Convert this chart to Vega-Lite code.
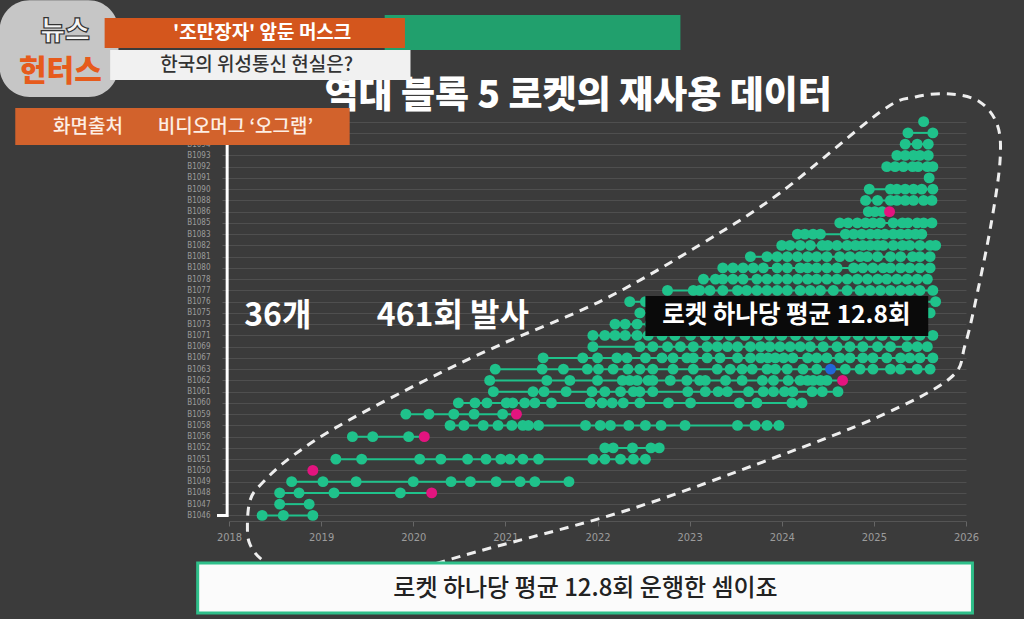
{
"$schema": "https://vega.github.io/schema/vega-lite/v6.json",
"width": 737, "height": 405,
"autosize": "none",
"padding": {"left": 229, "top": 116, "right": 58, "bottom": 98},
"background": "#3b3b3b",
"config": {"view": {"stroke": null}},
"datasets": {
"launches": [
{"booster":"B1046","year":2018.36,"status":"ok"},{"booster":"B1046","year":2018.59,"status":"ok"},{"booster":"B1046","year":2018.91,"status":"ok"},
{"booster":"B1047","year":2018.55,"status":"ok"},{"booster":"B1047","year":2018.87,"status":"ok"},
{"booster":"B1048","year":2018.55,"status":"ok"},{"booster":"B1048","year":2018.76,"status":"ok"},{"booster":"B1048","year":2019.14,"status":"ok"},{"booster":"B1048","year":2019.86,"status":"ok"},{"booster":"B1048","year":2020.20,"status":"lost"},
{"booster":"B1049","year":2018.68,"status":"ok"},{"booster":"B1049","year":2019.02,"status":"ok"},{"booster":"B1049","year":2019.38,"status":"ok"},{"booster":"B1049","year":2020.00,"status":"ok"},{"booster":"B1049","year":2020.41,"status":"ok"},{"booster":"B1049","year":2020.62,"status":"ok"},{"booster":"B1049","year":2020.90,"status":"ok"},{"booster":"B1049","year":2021.16,"status":"ok"},{"booster":"B1049","year":2021.32,"status":"ok"},{"booster":"B1049","year":2021.69,"status":"ok"},
{"booster":"B1050","year":2018.91,"status":"lost"},
{"booster":"B1051","year":2019.16,"status":"ok"},{"booster":"B1051","year":2019.44,"status":"ok"},{"booster":"B1051","year":2020.07,"status":"ok"},{"booster":"B1051","year":2020.30,"status":"ok"},{"booster":"B1051","year":2020.59,"status":"ok"},{"booster":"B1051","year":2020.79,"status":"ok"},{"booster":"B1051","year":2020.95,"status":"ok"},{"booster":"B1051","year":2021.05,"status":"ok"},{"booster":"B1051","year":2021.19,"status":"ok"},{"booster":"B1051","year":2021.36,"status":"ok"},{"booster":"B1051","year":2021.95,"status":"ok"},{"booster":"B1051","year":2022.08,"status":"ok"},{"booster":"B1051","year":2022.25,"status":"ok"},{"booster":"B1051","year":2022.39,"status":"ok"},{"booster":"B1051","year":2022.52,"status":"ok"},
{"booster":"B1052","year":2022.08,"status":"ok"},{"booster":"B1052","year":2022.17,"status":"ok"},{"booster":"B1052","year":2022.38,"status":"ok"},{"booster":"B1052","year":2022.58,"status":"ok"},{"booster":"B1052","year":2022.67,"status":"ok"},
{"booster":"B1056","year":2019.34,"status":"ok"},{"booster":"B1056","year":2019.56,"status":"ok"},{"booster":"B1056","year":2019.95,"status":"ok"},{"booster":"B1056","year":2020.12,"status":"lost"},
{"booster":"B1058","year":2020.40,"status":"ok"},{"booster":"B1058","year":2020.55,"status":"ok"},{"booster":"B1058","year":2020.76,"status":"ok"},{"booster":"B1058","year":2020.92,"status":"ok"},{"booster":"B1058","year":2021.07,"status":"ok"},{"booster":"B1058","year":2021.19,"status":"ok"},{"booster":"B1058","year":2021.25,"status":"ok"},{"booster":"B1058","year":2021.36,"status":"ok"},{"booster":"B1058","year":2021.87,"status":"ok"},{"booster":"B1058","year":2022.03,"status":"ok"},{"booster":"B1058","year":2022.14,"status":"ok"},{"booster":"B1058","year":2022.34,"status":"ok"},{"booster":"B1058","year":2022.52,"status":"ok"},{"booster":"B1058","year":2022.69,"status":"ok"},{"booster":"B1058","year":2022.95,"status":"ok"},{"booster":"B1058","year":2023.52,"status":"ok"},{"booster":"B1058","year":2023.71,"status":"ok"},{"booster":"B1058","year":2023.84,"status":"ok"},{"booster":"B1058","year":2023.97,"status":"ok"},
{"booster":"B1059","year":2019.92,"status":"ok"},{"booster":"B1059","year":2020.17,"status":"ok"},{"booster":"B1059","year":2020.44,"status":"ok"},{"booster":"B1059","year":2020.66,"status":"ok"},{"booster":"B1059","year":2020.97,"status":"ok"},{"booster":"B1059","year":2021.12,"status":"lost"},
{"booster":"B1060","year":2020.49,"status":"ok"},{"booster":"B1060","year":2020.67,"status":"ok"},{"booster":"B1060","year":2020.80,"status":"ok"},{"booster":"B1060","year":2021.01,"status":"ok"},{"booster":"B1060","year":2021.08,"status":"ok"},{"booster":"B1060","year":2021.21,"status":"ok"},{"booster":"B1060","year":2021.32,"status":"ok"},{"booster":"B1060","year":2021.50,"status":"ok"},{"booster":"B1060","year":2021.92,"status":"ok"},{"booster":"B1060","year":2022.05,"status":"ok"},{"booster":"B1060","year":2022.16,"status":"ok"},{"booster":"B1060","year":2022.28,"status":"ok"},{"booster":"B1060","year":2022.46,"status":"ok"},{"booster":"B1060","year":2022.77,"status":"ok"},{"booster":"B1060","year":2023.01,"status":"ok"},{"booster":"B1060","year":2023.54,"status":"ok"},{"booster":"B1060","year":2023.73,"status":"ok"},{"booster":"B1060","year":2024.11,"status":"ok"},{"booster":"B1060","year":2024.22,"status":"ok"},
{"booster":"B1061","year":2020.87,"status":"ok"},{"booster":"B1061","year":2021.30,"status":"ok"},{"booster":"B1061","year":2021.42,"status":"ok"},{"booster":"B1061","year":2021.66,"status":"ok"},{"booster":"B1061","year":2021.94,"status":"ok"},{"booster":"B1061","year":2022.08,"status":"ok"},{"booster":"B1061","year":2022.25,"status":"ok"},{"booster":"B1061","year":2022.39,"status":"ok"},{"booster":"B1061","year":2022.46,"status":"ok"},{"booster":"B1061","year":2022.60,"status":"ok"},{"booster":"B1061","year":2022.98,"status":"ok"},{"booster":"B1061","year":2023.17,"status":"ok"},{"booster":"B1061","year":2023.31,"status":"ok"},{"booster":"B1061","year":2023.41,"status":"ok"},{"booster":"B1061","year":2023.64,"status":"ok"},{"booster":"B1061","year":2023.80,"status":"ok"},{"booster":"B1061","year":2023.91,"status":"ok"},{"booster":"B1061","year":2024.03,"status":"ok"},{"booster":"B1061","year":2024.12,"status":"ok"},{"booster":"B1061","year":2024.33,"status":"ok"},{"booster":"B1061","year":2024.44,"status":"ok"},{"booster":"B1061","year":2024.61,"status":"ok"},
{"booster":"B1062","year":2020.83,"status":"ok"},{"booster":"B1062","year":2021.45,"status":"ok"},{"booster":"B1062","year":2021.70,"status":"ok"},{"booster":"B1062","year":2022.00,"status":"ok"},{"booster":"B1062","year":2022.27,"status":"ok"},{"booster":"B1062","year":2022.35,"status":"ok"},{"booster":"B1062","year":2022.43,"status":"ok"},{"booster":"B1062","year":2022.55,"status":"ok"},{"booster":"B1062","year":2022.60,"status":"ok"},{"booster":"B1062","year":2022.79,"status":"ok"},{"booster":"B1062","year":2022.97,"status":"ok"},{"booster":"B1062","year":2023.11,"status":"ok"},{"booster":"B1062","year":2023.17,"status":"ok"},{"booster":"B1062","year":2023.39,"status":"ok"},{"booster":"B1062","year":2023.57,"status":"ok"},{"booster":"B1062","year":2023.79,"status":"ok"},{"booster":"B1062","year":2023.91,"status":"ok"},{"booster":"B1062","year":2024.07,"status":"ok"},{"booster":"B1062","year":2024.20,"status":"ok"},{"booster":"B1062","year":2024.28,"status":"ok"},{"booster":"B1062","year":2024.34,"status":"ok"},{"booster":"B1062","year":2024.42,"status":"ok"},{"booster":"B1062","year":2024.49,"status":"ok"},{"booster":"B1062","year":2024.66,"status":"lost"},
{"booster":"B1063","year":2020.89,"status":"ok"},{"booster":"B1063","year":2021.40,"status":"ok"},{"booster":"B1063","year":2021.63,"status":"ok"},{"booster":"B1063","year":2021.89,"status":"ok"},{"booster":"B1063","year":2022.01,"status":"ok"},{"booster":"B1063","year":2022.17,"status":"ok"},{"booster":"B1063","year":2022.33,"status":"ok"},{"booster":"B1063","year":2022.46,"status":"ok"},{"booster":"B1063","year":2022.60,"status":"ok"},{"booster":"B1063","year":2022.82,"status":"ok"},{"booster":"B1063","year":2023.04,"status":"ok"},{"booster":"B1063","year":2023.30,"status":"ok"},{"booster":"B1063","year":2023.44,"status":"ok"},{"booster":"B1063","year":2023.57,"status":"ok"},{"booster":"B1063","year":2023.68,"status":"ok"},{"booster":"B1063","year":2023.84,"status":"ok"},{"booster":"B1063","year":2023.93,"status":"ok"},{"booster":"B1063","year":2024.06,"status":"ok"},{"booster":"B1063","year":2024.23,"status":"ok"},{"booster":"B1063","year":2024.38,"status":"ok"},{"booster":"B1063","year":2024.53,"status":"fail"},{"booster":"B1063","year":2024.69,"status":"ok"},{"booster":"B1063","year":2024.85,"status":"ok"},{"booster":"B1063","year":2024.99,"status":"ok"},{"booster":"B1063","year":2025.18,"status":"ok"},{"booster":"B1063","year":2025.29,"status":"ok"},{"booster":"B1063","year":2025.47,"status":"ok"},{"booster":"B1063","year":2025.61,"status":"ok"},
{"booster":"B1067","year":2021.41,"status":"ok"},{"booster":"B1067","year":2021.84,"status":"ok"},{"booster":"B1067","year":2022.00,"status":"ok"},{"booster":"B1067","year":2022.21,"status":"ok"},{"booster":"B1067","year":2022.32,"status":"ok"},{"booster":"B1067","year":2022.52,"status":"ok"},{"booster":"B1067","year":2022.70,"status":"ok"},{"booster":"B1067","year":2022.82,"status":"ok"},{"booster":"B1067","year":2022.97,"status":"ok"},{"booster":"B1067","year":2023.04,"status":"ok"},{"booster":"B1067","year":2023.19,"status":"ok"},{"booster":"B1067","year":2023.33,"status":"ok"},{"booster":"B1067","year":2023.52,"status":"ok"},{"booster":"B1067","year":2023.66,"status":"ok"},{"booster":"B1067","year":2023.77,"status":"ok"},{"booster":"B1067","year":2023.85,"status":"ok"},{"booster":"B1067","year":2023.93,"status":"ok"},{"booster":"B1067","year":2024.02,"status":"ok"},{"booster":"B1067","year":2024.12,"status":"ok"},{"booster":"B1067","year":2024.28,"status":"ok"},{"booster":"B1067","year":2024.38,"status":"ok"},{"booster":"B1067","year":2024.49,"status":"ok"},{"booster":"B1067","year":2024.63,"status":"ok"},{"booster":"B1067","year":2024.74,"status":"ok"},{"booster":"B1067","year":2024.88,"status":"ok"},{"booster":"B1067","year":2024.99,"status":"ok"},{"booster":"B1067","year":2025.14,"status":"ok"},{"booster":"B1067","year":2025.29,"status":"ok"},{"booster":"B1067","year":2025.39,"status":"ok"},{"booster":"B1067","year":2025.50,"status":"ok"},{"booster":"B1067","year":2025.64,"status":"ok"},
{"booster":"B1069","year":2021.95,"status":"ok"},{"booster":"B1069","year":2022.46,"status":"ok"},{"booster":"B1069","year":2022.60,"status":"ok"},{"booster":"B1069","year":2022.76,"status":"ok"},{"booster":"B1069","year":2022.90,"status":"ok"},{"booster":"B1069","year":2023.04,"status":"ok"},{"booster":"B1069","year":2023.19,"status":"ok"},{"booster":"B1069","year":2023.30,"status":"ok"},{"booster":"B1069","year":2023.41,"status":"ok"},{"booster":"B1069","year":2023.52,"status":"ok"},{"booster":"B1069","year":2023.66,"status":"ok"},{"booster":"B1069","year":2023.77,"status":"ok"},{"booster":"B1069","year":2023.87,"status":"ok"},{"booster":"B1069","year":2023.98,"status":"ok"},{"booster":"B1069","year":2024.09,"status":"ok"},{"booster":"B1069","year":2024.20,"status":"ok"},{"booster":"B1069","year":2024.31,"status":"ok"},{"booster":"B1069","year":2024.45,"status":"ok"},{"booster":"B1069","year":2024.60,"status":"ok"},{"booster":"B1069","year":2024.74,"status":"ok"},{"booster":"B1069","year":2024.88,"status":"ok"},{"booster":"B1069","year":2025.04,"status":"ok"},{"booster":"B1069","year":2025.18,"status":"ok"},{"booster":"B1069","year":2025.36,"status":"ok"},{"booster":"B1069","year":2025.47,"status":"ok"},{"booster":"B1069","year":2025.58,"status":"ok"},
{"booster":"B1071","year":2021.95,"status":"ok"},{"booster":"B1071","year":2022.08,"status":"ok"},{"booster":"B1071","year":2022.19,"status":"ok"},{"booster":"B1071","year":2022.30,"status":"ok"},{"booster":"B1071","year":2022.43,"status":"ok"},{"booster":"B1071","year":2022.55,"status":"ok"},{"booster":"B1071","year":2022.70,"status":"ok"},{"booster":"B1071","year":2022.84,"status":"ok"},{"booster":"B1071","year":2023.01,"status":"ok"},{"booster":"B1071","year":2023.17,"status":"ok"},{"booster":"B1071","year":2023.31,"status":"ok"},{"booster":"B1071","year":2023.44,"status":"ok"},{"booster":"B1071","year":2023.60,"status":"ok"},{"booster":"B1071","year":2023.74,"status":"ok"},{"booster":"B1071","year":2023.87,"status":"ok"},{"booster":"B1071","year":2024.00,"status":"ok"},{"booster":"B1071","year":2024.15,"status":"ok"},{"booster":"B1071","year":2024.29,"status":"ok"},{"booster":"B1071","year":2024.42,"status":"ok"},{"booster":"B1071","year":2024.55,"status":"ok"},{"booster":"B1071","year":2024.69,"status":"ok"},{"booster":"B1071","year":2024.83,"status":"ok"},{"booster":"B1071","year":2024.96,"status":"ok"},{"booster":"B1071","year":2025.09,"status":"ok"},{"booster":"B1071","year":2025.23,"status":"ok"},{"booster":"B1071","year":2025.36,"status":"ok"},{"booster":"B1071","year":2025.50,"status":"ok"},{"booster":"B1071","year":2025.64,"status":"ok"},
{"booster":"B1073","year":2022.19,"status":"ok"},{"booster":"B1073","year":2022.30,"status":"ok"},{"booster":"B1073","year":2022.43,"status":"ok"},{"booster":"B1073","year":2022.57,"status":"ok"},{"booster":"B1073","year":2022.73,"status":"ok"},{"booster":"B1073","year":2022.90,"status":"ok"},{"booster":"B1073","year":2023.06,"status":"ok"},{"booster":"B1073","year":2023.22,"status":"ok"},{"booster":"B1073","year":2023.39,"status":"ok"},{"booster":"B1073","year":2023.55,"status":"ok"},{"booster":"B1073","year":2023.71,"status":"ok"},{"booster":"B1073","year":2023.87,"status":"ok"},{"booster":"B1073","year":2024.04,"status":"ok"},{"booster":"B1073","year":2024.20,"status":"ok"},{"booster":"B1073","year":2024.36,"status":"ok"},{"booster":"B1073","year":2024.53,"status":"ok"},{"booster":"B1073","year":2024.72,"status":"ok"},{"booster":"B1073","year":2024.91,"status":"ok"},{"booster":"B1073","year":2025.12,"status":"ok"},{"booster":"B1073","year":2025.34,"status":"ok"},
{"booster":"B1075","year":2022.46,"status":"ok"},{"booster":"B1075","year":2022.63,"status":"ok"},{"booster":"B1075","year":2022.81,"status":"ok"},{"booster":"B1075","year":2023.01,"status":"ok"},{"booster":"B1075","year":2023.20,"status":"ok"},{"booster":"B1075","year":2023.39,"status":"ok"},{"booster":"B1075","year":2023.60,"status":"ok"},{"booster":"B1075","year":2023.82,"status":"ok"},{"booster":"B1075","year":2024.04,"status":"ok"},{"booster":"B1075","year":2024.25,"status":"ok"},{"booster":"B1075","year":2024.47,"status":"ok"},{"booster":"B1075","year":2024.69,"status":"ok"},{"booster":"B1075","year":2024.91,"status":"ok"},{"booster":"B1075","year":2025.12,"status":"ok"},{"booster":"B1075","year":2025.34,"status":"ok"},{"booster":"B1075","year":2025.48,"status":"ok"},{"booster":"B1075","year":2025.61,"status":"ok"},
{"booster":"B1076","year":2022.35,"status":"ok"},{"booster":"B1076","year":2022.52,"status":"ok"},{"booster":"B1076","year":2022.68,"status":"ok"},{"booster":"B1076","year":2022.84,"status":"ok"},{"booster":"B1076","year":2023.01,"status":"ok"},{"booster":"B1076","year":2023.17,"status":"ok"},{"booster":"B1076","year":2023.33,"status":"ok"},{"booster":"B1076","year":2023.53,"status":"ok"},{"booster":"B1076","year":2023.71,"status":"ok"},{"booster":"B1076","year":2023.90,"status":"ok"},{"booster":"B1076","year":2024.09,"status":"ok"},{"booster":"B1076","year":2024.29,"status":"ok"},{"booster":"B1076","year":2024.48,"status":"ok"},{"booster":"B1076","year":2024.69,"status":"ok"},{"booster":"B1076","year":2024.87,"status":"ok"},{"booster":"B1076","year":2025.07,"status":"ok"},{"booster":"B1076","year":2025.26,"status":"ok"},{"booster":"B1076","year":2025.45,"status":"ok"},{"booster":"B1076","year":2025.67,"status":"ok"},
{"booster":"B1077","year":2022.76,"status":"ok"},{"booster":"B1077","year":2023.04,"status":"ok"},{"booster":"B1077","year":2023.11,"status":"ok"},{"booster":"B1077","year":2023.22,"status":"ok"},{"booster":"B1077","year":2023.36,"status":"ok"},{"booster":"B1077","year":2023.52,"status":"ok"},{"booster":"B1077","year":2023.62,"status":"ok"},{"booster":"B1077","year":2023.73,"status":"ok"},{"booster":"B1077","year":2023.84,"status":"ok"},{"booster":"B1077","year":2023.95,"status":"ok"},{"booster":"B1077","year":2024.06,"status":"ok"},{"booster":"B1077","year":2024.20,"status":"ok"},{"booster":"B1077","year":2024.31,"status":"ok"},{"booster":"B1077","year":2024.42,"status":"ok"},{"booster":"B1077","year":2024.56,"status":"ok"},{"booster":"B1077","year":2024.71,"status":"ok"},{"booster":"B1077","year":2024.85,"status":"ok"},{"booster":"B1077","year":2024.96,"status":"ok"},{"booster":"B1077","year":2025.07,"status":"ok"},{"booster":"B1077","year":2025.18,"status":"ok"},{"booster":"B1077","year":2025.29,"status":"ok"},{"booster":"B1077","year":2025.39,"status":"ok"},{"booster":"B1077","year":2025.50,"status":"ok"},{"booster":"B1077","year":2025.64,"status":"ok"},
{"booster":"B1078","year":2023.15,"status":"ok"},{"booster":"B1078","year":2023.28,"status":"ok"},{"booster":"B1078","year":2023.36,"status":"ok"},{"booster":"B1078","year":2023.47,"status":"ok"},{"booster":"B1078","year":2023.58,"status":"ok"},{"booster":"B1078","year":2023.73,"status":"ok"},{"booster":"B1078","year":2023.84,"status":"ok"},{"booster":"B1078","year":2023.95,"status":"ok"},{"booster":"B1078","year":2024.06,"status":"ok"},{"booster":"B1078","year":2024.17,"status":"ok"},{"booster":"B1078","year":2024.28,"status":"ok"},{"booster":"B1078","year":2024.38,"status":"ok"},{"booster":"B1078","year":2024.49,"status":"ok"},{"booster":"B1078","year":2024.60,"status":"ok"},{"booster":"B1078","year":2024.71,"status":"ok"},{"booster":"B1078","year":2024.82,"status":"ok"},{"booster":"B1078","year":2024.93,"status":"ok"},{"booster":"B1078","year":2025.04,"status":"ok"},{"booster":"B1078","year":2025.14,"status":"ok"},{"booster":"B1078","year":2025.25,"status":"ok"},{"booster":"B1078","year":2025.36,"status":"ok"},{"booster":"B1078","year":2025.47,"status":"ok"},{"booster":"B1078","year":2025.58,"status":"ok"},
{"booster":"B1080","year":2023.36,"status":"ok"},{"booster":"B1080","year":2023.47,"status":"ok"},{"booster":"B1080","year":2023.58,"status":"ok"},{"booster":"B1080","year":2023.69,"status":"ok"},{"booster":"B1080","year":2023.80,"status":"ok"},{"booster":"B1080","year":2023.95,"status":"ok"},{"booster":"B1080","year":2024.06,"status":"ok"},{"booster":"B1080","year":2024.20,"status":"ok"},{"booster":"B1080","year":2024.28,"status":"ok"},{"booster":"B1080","year":2024.38,"status":"ok"},{"booster":"B1080","year":2024.49,"status":"ok"},{"booster":"B1080","year":2024.60,"status":"ok"},{"booster":"B1080","year":2024.78,"status":"ok"},{"booster":"B1080","year":2024.88,"status":"ok"},{"booster":"B1080","year":2024.99,"status":"ok"},{"booster":"B1080","year":2025.10,"status":"ok"},{"booster":"B1080","year":2025.18,"status":"ok"},{"booster":"B1080","year":2025.29,"status":"ok"},{"booster":"B1080","year":2025.39,"status":"ok"},{"booster":"B1080","year":2025.50,"status":"ok"},{"booster":"B1080","year":2025.61,"status":"ok"},
{"booster":"B1081","year":2023.66,"status":"ok"},{"booster":"B1081","year":2023.84,"status":"ok"},{"booster":"B1081","year":2023.95,"status":"ok"},{"booster":"B1081","year":2024.06,"status":"ok"},{"booster":"B1081","year":2024.17,"status":"ok"},{"booster":"B1081","year":2024.28,"status":"ok"},{"booster":"B1081","year":2024.38,"status":"ok"},{"booster":"B1081","year":2024.49,"status":"ok"},{"booster":"B1081","year":2024.63,"status":"ok"},{"booster":"B1081","year":2024.74,"status":"ok"},{"booster":"B1081","year":2024.85,"status":"ok"},{"booster":"B1081","year":2024.93,"status":"ok"},{"booster":"B1081","year":2025.04,"status":"ok"},{"booster":"B1081","year":2025.18,"status":"ok"},{"booster":"B1081","year":2025.29,"status":"ok"},{"booster":"B1081","year":2025.42,"status":"ok"},{"booster":"B1081","year":2025.50,"status":"ok"},{"booster":"B1081","year":2025.61,"status":"ok"},
{"booster":"B1082","year":2024.00,"status":"ok"},{"booster":"B1082","year":2024.09,"status":"ok"},{"booster":"B1082","year":2024.20,"status":"ok"},{"booster":"B1082","year":2024.31,"status":"ok"},{"booster":"B1082","year":2024.44,"status":"ok"},{"booster":"B1082","year":2024.50,"status":"ok"},{"booster":"B1082","year":2024.60,"status":"ok"},{"booster":"B1082","year":2024.71,"status":"ok"},{"booster":"B1082","year":2024.80,"status":"ok"},{"booster":"B1082","year":2024.88,"status":"ok"},{"booster":"B1082","year":2024.96,"status":"ok"},{"booster":"B1082","year":2025.04,"status":"ok"},{"booster":"B1082","year":2025.10,"status":"ok"},{"booster":"B1082","year":2025.21,"status":"ok"},{"booster":"B1082","year":2025.31,"status":"ok"},{"booster":"B1082","year":2025.39,"status":"ok"},{"booster":"B1082","year":2025.50,"status":"ok"},{"booster":"B1082","year":2025.61,"status":"ok"},{"booster":"B1082","year":2025.67,"status":"ok"},
{"booster":"B1083","year":2024.17,"status":"ok"},{"booster":"B1083","year":2024.25,"status":"ok"},{"booster":"B1083","year":2024.34,"status":"ok"},{"booster":"B1083","year":2024.42,"status":"ok"},{"booster":"B1083","year":2024.69,"status":"ok"},{"booster":"B1083","year":2024.78,"status":"ok"},{"booster":"B1083","year":2024.87,"status":"ok"},{"booster":"B1083","year":2024.96,"status":"ok"},{"booster":"B1083","year":2025.04,"status":"ok"},{"booster":"B1083","year":2025.12,"status":"ok"},{"booster":"B1083","year":2025.21,"status":"ok"},{"booster":"B1083","year":2025.29,"status":"ok"},{"booster":"B1083","year":2025.37,"status":"ok"},{"booster":"B1083","year":2025.45,"status":"ok"},{"booster":"B1083","year":2025.52,"status":"ok"},
{"booster":"B1085","year":2024.63,"status":"ok"},{"booster":"B1085","year":2024.72,"status":"ok"},{"booster":"B1085","year":2024.82,"status":"ok"},{"booster":"B1085","year":2024.91,"status":"ok"},{"booster":"B1085","year":2024.99,"status":"ok"},{"booster":"B1085","year":2025.07,"status":"ok"},{"booster":"B1085","year":2025.21,"status":"ok"},{"booster":"B1085","year":2025.31,"status":"ok"},{"booster":"B1085","year":2025.37,"status":"ok"},{"booster":"B1085","year":2025.47,"status":"ok"},{"booster":"B1085","year":2025.54,"status":"ok"},{"booster":"B1085","year":2025.63,"status":"ok"},
{"booster":"B1086","year":2024.94,"status":"ok"},{"booster":"B1086","year":2025.01,"status":"ok"},{"booster":"B1086","year":2025.09,"status":"ok"},{"booster":"B1086","year":2025.17,"status":"lost"},
{"booster":"B1088","year":2024.91,"status":"ok"},{"booster":"B1088","year":2025.04,"status":"ok"},{"booster":"B1088","year":2025.18,"status":"ok"},{"booster":"B1088","year":2025.25,"status":"ok"},{"booster":"B1088","year":2025.34,"status":"ok"},{"booster":"B1088","year":2025.43,"status":"ok"},{"booster":"B1088","year":2025.54,"status":"ok"},{"booster":"B1088","year":2025.63,"status":"ok"},
{"booster":"B1090","year":2024.95,"status":"ok"},{"booster":"B1090","year":2025.18,"status":"ok"},{"booster":"B1090","year":2025.25,"status":"ok"},{"booster":"B1090","year":2025.34,"status":"ok"},{"booster":"B1090","year":2025.43,"status":"ok"},{"booster":"B1090","year":2025.52,"status":"ok"},{"booster":"B1090","year":2025.64,"status":"ok"},
{"booster":"B1091","year":2025.60,"status":"ok"},
{"booster":"B1092","year":2025.14,"status":"ok"},{"booster":"B1092","year":2025.23,"status":"ok"},{"booster":"B1092","year":2025.32,"status":"ok"},{"booster":"B1092","year":2025.42,"status":"ok"},{"booster":"B1092","year":2025.48,"status":"ok"},{"booster":"B1092","year":2025.58,"status":"ok"},{"booster":"B1092","year":2025.64,"status":"ok"},
{"booster":"B1093","year":2025.25,"status":"ok"},{"booster":"B1093","year":2025.34,"status":"ok"},{"booster":"B1093","year":2025.43,"status":"ok"},{"booster":"B1093","year":2025.50,"status":"ok"},{"booster":"B1093","year":2025.59,"status":"ok"},
{"booster":"B1094","year":2025.34,"status":"ok"},{"booster":"B1094","year":2025.47,"status":"ok"},{"booster":"B1094","year":2025.59,"status":"ok"},
{"booster":"B1095","year":2025.37,"status":"ok"},{"booster":"B1095","year":2025.64,"status":"ok"},
{"booster":"B1097","year":2025.54,"status":"ok"}
],
"outline": [
{"year":2018.20,"row":-0.85,"order":1},{"year":2018.23,"row":1.37,"order":2},{"year":2018.34,"row":2.70,"order":3},{"year":2018.66,"row":5.10,"order":4},{"year":2019.21,"row":8.04,"order":5},{"year":2020.18,"row":12.21,"order":6},{"year":2020.94,"row":15.15,"order":7},{"year":2022.06,"row":19.15,"order":8},{"year":2023.11,"row":24.04,"order":9},{"year":2023.98,"row":28.66,"order":10},{"year":2025.07,"row":35.86,"order":11},{"year":2025.45,"row":37.19,"order":12},{"year":2025.83,"row":37.46,"order":13},{"year":2026.15,"row":36.75,"order":14},{"year":2026.34,"row":34.70,"order":15},{"year":2026.37,"row":31.59,"order":16},{"year":2026.28,"row":26.26,"order":17},{"year":2026.13,"row":20.04,"order":18},{"year":2025.99,"row":15.15,"order":19},{"year":2025.83,"row":12.21,"order":20},{"year":2025.07,"row":8.84,"order":21},{"year":2023.91,"row":5.10,"order":22},{"year":2022.33,"row":0.48,"order":23},{"year":2020.68,"row":-3.25,"order":24},{"year":2019.64,"row":-5.56,"order":25},{"year":2018.77,"row":-5.74,"order":26},{"year":2018.39,"row":-4.14,"order":27},{"year":2018.23,"row":-2.63,"order":28}
]
},
"layer": [
{
"data": {"name": "launches"},
"encoding": {
"y": {"field": "booster", "type": "nominal", "title": null,
"scale": {"type": "point", "padding": 0.5, "domain": ["B1097","B1095","B1094","B1093","B1092","B1091","B1090","B1088","B1086","B1085","B1083","B1082","B1081","B1080","B1078","B1077","B1076","B1075","B1073","B1071","B1069","B1067","B1063","B1062","B1061","B1060","B1059","B1058","B1056","B1052","B1051","B1050","B1049","B1048","B1047","B1046"]},
"axis": {"domain": false, "ticks": true, "tickSize": 7, "tickColor": "#5a5a5a", "labelPadding": 12, "labelColor": "#9c9c9c", "labelFontSize": 8, "labelFont": "DejaVu Sans Condensed", "labelExpr": "datum.value == 'B1097' || datum.value == 'B1095' ? '' : datum.value", "grid": true, "gridColor": "#4f4f4f", "gridWidth": 1}}
},
"layer": [
{"mark": {"type": "rule", "color": "#1fc28b", "strokeWidth": 2},
"encoding": {
"x": {"aggregate": "min", "field": "year", "type": "quantitative", "scale": {"domain": [2018, 2026], "nice": false, "zero": false},
"axis": {"title": null, "values": [2018,2019,2020,2021,2022,2023,2024,2025,2026], "format": "d", "labelFlush": false, "labelColor": "#9c9c9c", "labelFontSize": 11, "labelFont": "DejaVu Sans Condensed", "domain": true, "domainColor": "#555555", "tickColor": "#666666", "tickSize": 5, "labelPadding": 5, "grid": false}},
"x2": {"aggregate": "max", "field": "year"}}},
{"mark": {"type": "circle", "size": 120, "opacity": 1},
"encoding": {
"x": {"field": "year", "type": "quantitative", "scale": {"domain": [2018, 2026], "nice": false, "zero": false}},
"color": {"field": "status", "type": "nominal", "legend": null, "scale": {"domain": ["ok", "lost", "fail"], "range": ["#1fc28b", "#e3147f", "#2266d8"]}}}}
]
},
{
"layer": [
{"data": {"name": "outline"}, "mark": {"type": "line", "interpolate": "cardinal-closed", "color": "#eeeeee", "strokeWidth": 3, "strokeDash": [9, 7]},
"encoding": {"x": {"field": "year", "type": "quantitative", "scale": {"domain": [2018, 2026], "nice": false, "zero": false}},
"y": {"field": "row", "type": "quantitative", "axis": null, "scale": {"domain": [-0.5, 35.5], "nice": false, "zero": false}},
"order": {"field": "order", "type": "quantitative"}}},
{"data": {"values": [{"year": 2017.98, "row": 34.4, "order": 1}, {"year": 2017.98, "row": 0.0, "order": 2}, {"year": 2017.87, "row": 0.0, "order": 3}]},
"mark": {"type": "line", "color": "#ffffff", "strokeWidth": 3},
"encoding": {"x": {"field": "year", "type": "quantitative"}, "y": {"field": "row", "type": "quantitative"}, "order": {"field": "order", "type": "quantitative"}}},
{"data": {"values": [{"year": 2021.79, "row": 37.15, "label": "역대 블록 5 로켓의 재사용 데이터"}]},
"mark": {"type": "text", "font": "Noto Sans CJK KR", "fontWeight": 900, "fontSize": 37, "color": "#ffffff", "align": "center", "baseline": "middle"},
"encoding": {"x": {"field": "year", "type": "quantitative"}, "y": {"field": "row", "type": "quantitative"}, "text": {"field": "label"}}},
{"data": {"values": [{"year": 2018.53, "row": 17.72, "label": "36개"}, {"year": 2020.43, "row": 17.72, "label": "461회 발사"}]},
"mark": {"type": "text", "font": "Noto Sans CJK KR", "fontWeight": "bold", "fontSize": 32, "color": "#ffffff", "align": "center", "baseline": "middle"},
"encoding": {"x": {"field": "year", "type": "quantitative"}, "y": {"field": "row", "type": "quantitative"}, "text": {"field": "label"}}},
{"data": {"values": [{"x1": 2022.52, "x2": 2025.59, "y1": 19.5, "y2": 15.94}]},
"mark": {"type": "rect", "color": "#0a0a0a"},
"encoding": {"x": {"field": "x1", "type": "quantitative"}, "x2": {"field": "x2"}, "y": {"field": "y1", "type": "quantitative"}, "y2": {"field": "y2"}}},
{"data": {"values": [{"year": 2024.05, "row": 17.72, "label": "로켓 하나당 평균 12.8회"}]},
"mark": {"type": "text", "font": "Noto Sans CJK KR", "fontWeight": "bold", "fontSize": 24.5, "color": "#ffffff", "align": "center", "baseline": "middle"},
"encoding": {"x": {"field": "year", "type": "quantitative"}, "y": {"field": "row", "type": "quantitative"}, "text": {"field": "label"}}},
{"data": {"values": [{"x1": 2017.66, "x2": 2026.07, "y1": -4.23, "y2": -8.68}]},
"mark": {"type": "rect", "fill": "#fbfbfb", "stroke": "#2fbf8a", "strokeWidth": 3},
"encoding": {"x": {"field": "x1", "type": "quantitative"}, "x2": {"field": "x2"}, "y": {"field": "y1", "type": "quantitative"}, "y2": {"field": "y2"}}},
{"data": {"values": [{"year": 2021.87, "row": -6.5, "label": "로켓 하나당 평균 12.8회 운행한 셈이죠"}]},
"mark": {"type": "text", "font": "Noto Sans CJK KR", "fontWeight": 500, "fontSize": 24, "color": "#222222", "align": "center", "baseline": "middle"},
"encoding": {"x": {"field": "year", "type": "quantitative"}, "y": {"field": "row", "type": "quantitative"}, "text": {"field": "label"}}},
{"data": {"values": [{"x1": 2015.51, "x2": 2016.80, "y1": 45.8, "y2": 37.2}]},
"mark": {"type": "rect", "fill": "#d6d6d6", "opacity": 0.9, "cornerRadius": 30},
"encoding": {"x": {"field": "x1", "type": "quantitative"}, "x2": {"field": "x2"}, "y": {"field": "y1", "type": "quantitative"}, "y2": {"field": "y2"}}},
{"data": {"values": [{"x1": 2019.69, "x2": 2022.90, "y1": 44.48, "y2": 41.37}]},
"mark": {"type": "rect", "fill": "#1db377", "opacity": 0.85},
"encoding": {"x": {"field": "x1", "type": "quantitative"}, "x2": {"field": "x2"}, "y": {"field": "y1", "type": "quantitative"}, "y2": {"field": "y2"}}},
{"data": {"values": [{"x1": 2016.65, "x2": 2019.91, "y1": 44.21, "y2": 41.54}]},
"mark": {"type": "rect", "fill": "#d4561d"},
"encoding": {"x": {"field": "x1", "type": "quantitative"}, "x2": {"field": "x2"}, "y": {"field": "y1", "type": "quantitative"}, "y2": {"field": "y2"}}},
{"data": {"values": [{"x1": 2016.71, "x2": 2019.97, "y1": 41.37, "y2": 38.70}]},
"mark": {"type": "rect", "fill": "#f1f1f1"},
"encoding": {"x": {"field": "x1", "type": "quantitative"}, "x2": {"field": "x2"}, "y": {"field": "y1", "type": "quantitative"}, "y2": {"field": "y2"}}},
{"data": {"values": [{"x1": 2015.68, "x2": 2019.31, "y1": 36.21, "y2": 32.92}]},
"mark": {"type": "rect", "fill": "#d2622c"},
"encoding": {"x": {"field": "x1", "type": "quantitative"}, "x2": {"field": "x2"}, "y": {"field": "y1", "type": "quantitative"}, "y2": {"field": "y2"}}},
{"data": {"values": [{"year": 2018.36, "row": 42.88, "label": "'조만장자' 앞둔 머스크"}]},
"mark": {"type": "text", "font": "Noto Sans CJK KR", "fontWeight": "bold", "fontSize": 19, "color": "#ffffff", "align": "center", "baseline": "middle"},
"encoding": {"x": {"field": "year", "type": "quantitative"}, "y": {"field": "row", "type": "quantitative"}, "text": {"field": "label"}}},
{"data": {"values": [{"year": 2018.30, "row": 40.0, "label": "한국의 위성통신 현실은?"}]},
"mark": {"type": "text", "font": "Noto Sans CJK KR", "fontWeight": 500, "fontSize": 19, "color": "#333333", "align": "center", "baseline": "middle"},
"encoding": {"x": {"field": "year", "type": "quantitative"}, "y": {"field": "row", "type": "quantitative"}, "text": {"field": "label"}}},
{"data": {"values": [{"year": 2016.47, "row": 34.52, "label": "화면출처"}, {"year": 2018.07, "row": 34.52, "label": "비디오머그 ‘오그랩’"}]},
"mark": {"type": "text", "font": "Noto Sans CJK KR", "fontWeight": 500, "fontSize": 19, "color": "#fdeee4", "align": "center", "baseline": "middle"},
"encoding": {"x": {"field": "year", "type": "quantitative"}, "y": {"field": "row", "type": "quantitative"}, "text": {"field": "label"}}},
{"data": {"values": [{"year": 2016.22, "row": 43.0, "label": "뉴스"}]},
"mark": {"type": "text", "font": "Noto Sans CJK KR", "fontWeight": 900, "fontSize": 27, "color": "#f5f5f5", "stroke": "#333333", "strokeWidth": 1.2, "align": "center", "baseline": "middle"},
"encoding": {"x": {"field": "year", "type": "quantitative"}, "y": {"field": "row", "type": "quantitative"}, "text": {"field": "label"}}},
{"data": {"values": [{"year": 2016.17, "row": 39.4, "label": "헌터스"}]},
"mark": {"type": "text", "font": "Noto Sans CJK KR", "fontWeight": 900, "fontSize": 30, "color": "#e65b1c", "align": "center", "baseline": "middle"},
"encoding": {"x": {"field": "year", "type": "quantitative"}, "y": {"field": "row", "type": "quantitative"}, "text": {"field": "label"}}}
]
}
],
"resolve": {"scale": {"y": "independent"}}
}
